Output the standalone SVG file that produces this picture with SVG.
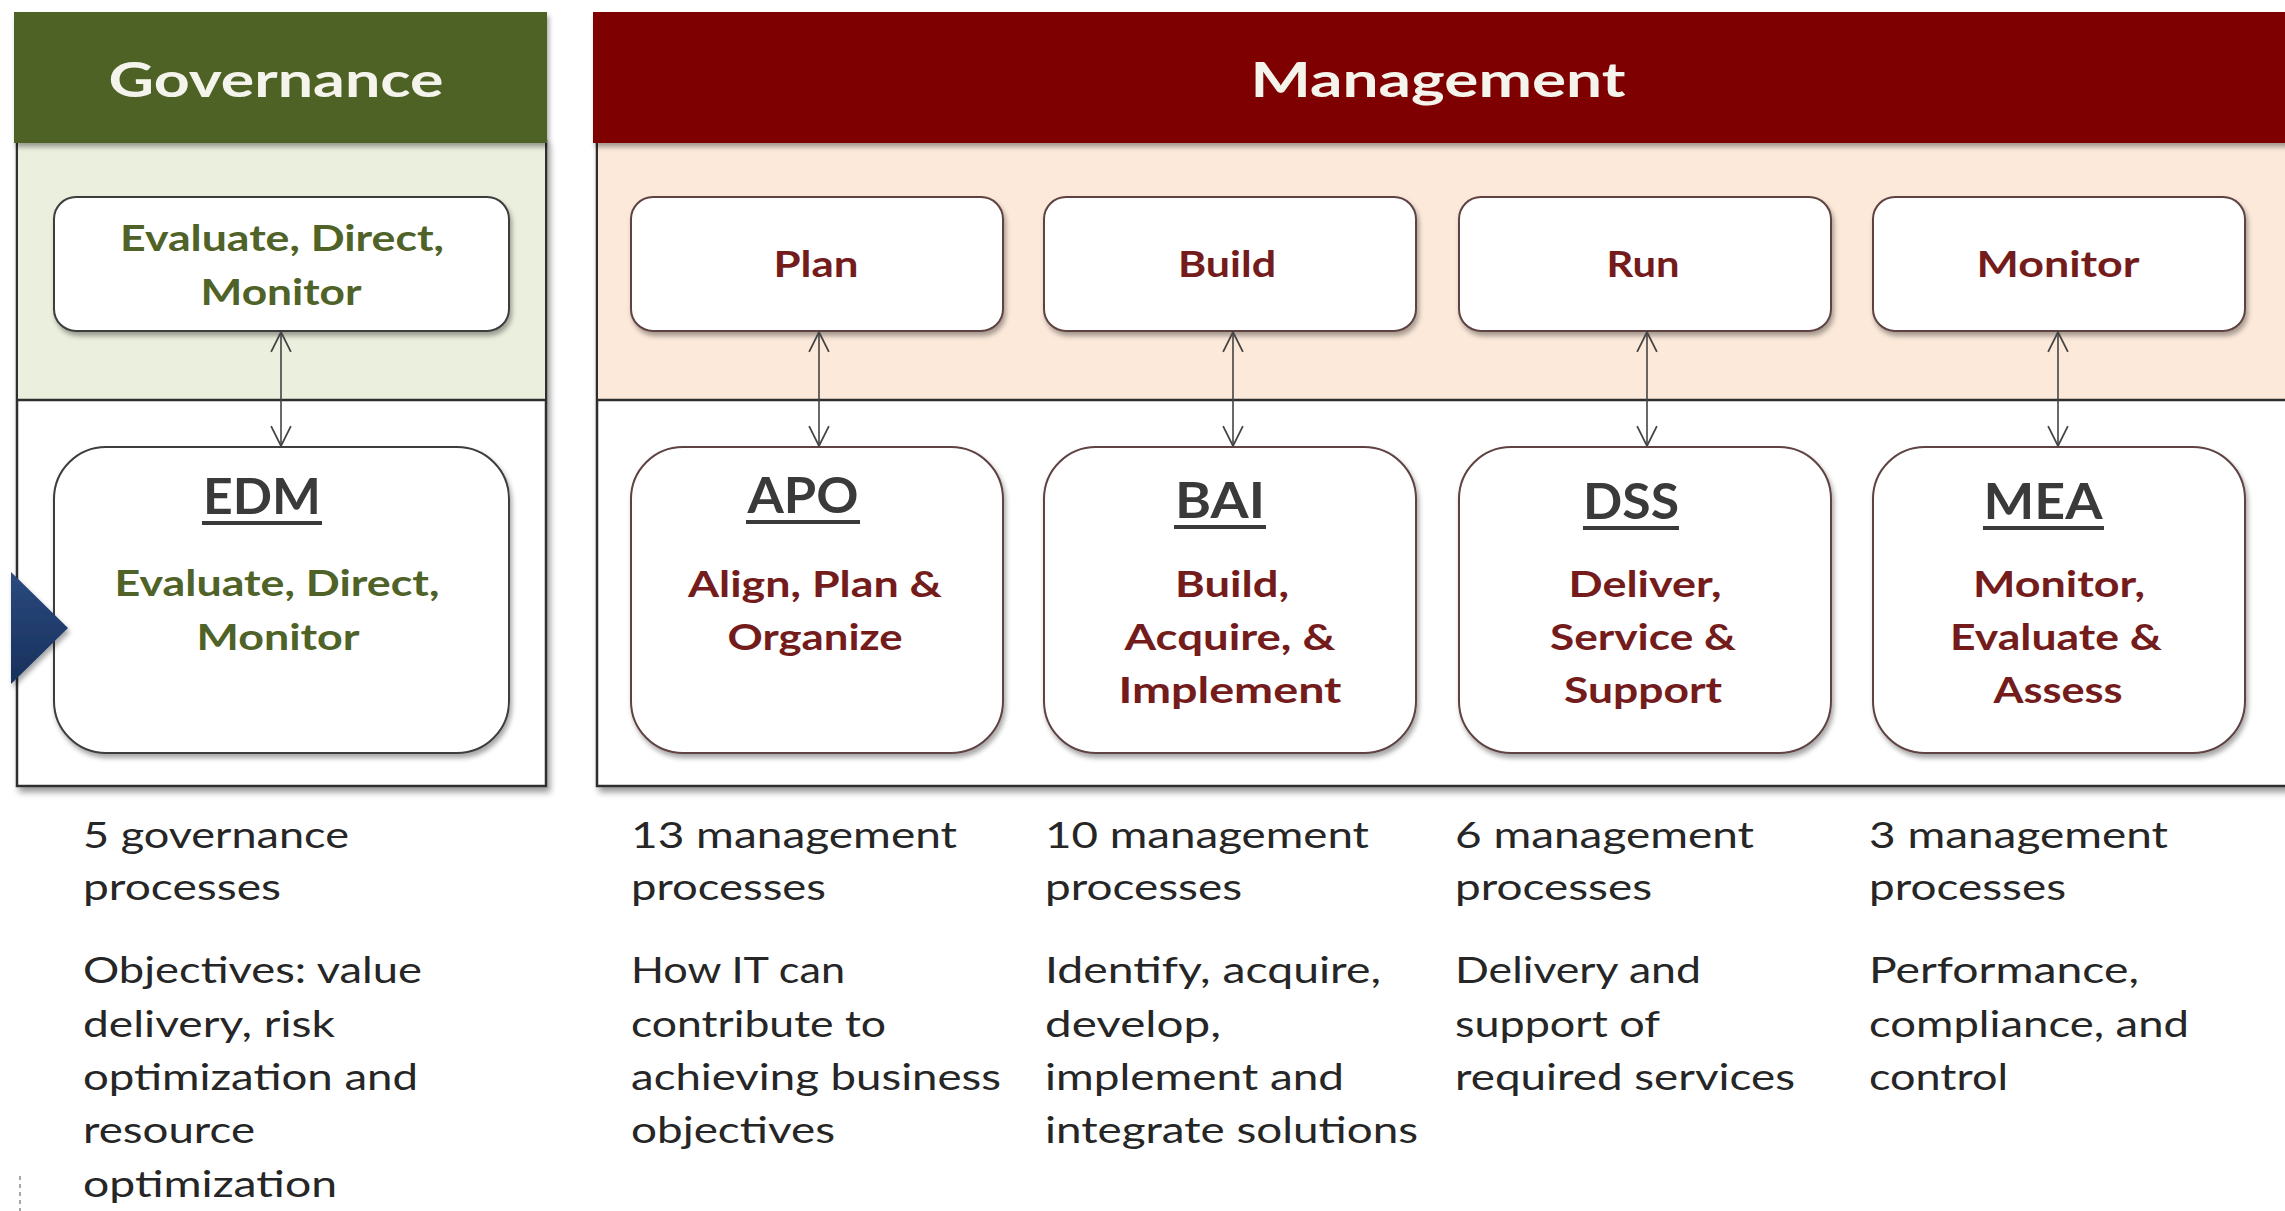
<svg xmlns="http://www.w3.org/2000/svg" width="2285" height="1211" viewBox="0 0 2285 1211">
<defs>
<filter id="sh" x="-10%" y="-10%" width="125%" height="130%"><feDropShadow dx="3" dy="5" stdDeviation="3" flood-color="#000" flood-opacity="0.4"/></filter>
<filter id="shs" x="-10%" y="-10%" width="125%" height="130%"><feDropShadow dx="2" dy="4" stdDeviation="2.5" flood-color="#000" flood-opacity="0.35"/></filter>
<linearGradient id="chev" x1="0" y1="0" x2="0" y2="1"><stop offset="0" stop-color="#2B4A7E"/><stop offset="1" stop-color="#17305C"/></linearGradient>
<marker id="ah" viewBox="0 0 20 20" refX="19" refY="10" markerUnits="userSpaceOnUse" markerWidth="22" markerHeight="22" orient="auto-start-reverse"><path d="M1,1 L19,10 L1,19" fill="none" stroke="#444" stroke-width="1.6"/></marker>
</defs>
<style>
text{font-family:Lato,"Open Sans","Liberation Sans",sans-serif}
.hdr{font-weight:700;font-size:48px;fill:#F4F4EC;text-anchor:middle}
.panel{stroke:#2E2E2E;stroke-width:2.5}
.gbox{fill:#FFFFFF;stroke:#3C3C3C;stroke-width:2}
.mbox{fill:#FFFFFF;stroke:#5E4242;stroke-width:2}
.gl{font-weight:700;font-size:36px;fill:#4F6228;text-anchor:middle}
.ml{font-weight:700;font-size:36px;fill:#741C1C;text-anchor:middle}
.code{font-weight:700;font-size:49px;fill:#3A3A3A;text-anchor:middle}
.ul{stroke:#3A3A3A;stroke-width:4}
.note{font-size:36px;fill:#262626}
.conn{stroke:#444;stroke-width:1.6;fill:none}
</style>

<g id="governance-panel">
<rect x="17" y="141" width="529" height="645" fill="#FFFFFF" class="panel" filter="url(#sh)"/>
<rect x="18" y="142" width="527" height="258" fill="#EBF0DE"/>
<line x1="17" y1="400" x2="546" y2="400" stroke="#2E2E2E" stroke-width="2.5"/>
</g>
<g id="management-panel">
<rect x="597" y="141" width="1700" height="645" fill="#FFFFFF" class="panel" filter="url(#sh)"/>
<rect x="598" y="142" width="1690" height="258" fill="#FCE9DA"/>
<line x1="597" y1="400" x2="2285" y2="400" stroke="#2E2E2E" stroke-width="2.5"/>
</g>

<g id="governance-header">
<rect x="14" y="12" width="533" height="131" fill="#4F6228" filter="url(#shs)"/>
<text class="hdr" x="276" y="97" textLength="335" lengthAdjust="spacingAndGlyphs">Governance</text>
</g>
<g id="management-header">
<rect x="593" y="12" width="1700" height="131" fill="#7F0000" filter="url(#shs)"/>
<text class="hdr" x="1438" y="97" textLength="375" lengthAdjust="spacingAndGlyphs" fill="#FBEDEB">Management</text>
</g>

<g id="edm-domain">
<rect class="gbox" x="54" y="197" width="455" height="134" rx="22" filter="url(#shs)"/>
<text class="gl" x="282" y="251" textLength="324" lengthAdjust="spacingAndGlyphs">Evaluate, Direct,</text>
<text class="gl" x="281" y="305" textLength="161" lengthAdjust="spacingAndGlyphs">Monitor</text>
</g>
<g id="plan">
<rect class="mbox" x="631" y="197" width="372" height="134" rx="22" filter="url(#shs)"/>
<text class="ml" x="816" y="277" textLength="85" lengthAdjust="spacingAndGlyphs">Plan</text>
</g>
<g id="build">
<rect class="mbox" x="1044" y="197" width="372" height="134" rx="22" filter="url(#shs)"/>
<text class="ml" x="1227" y="277" textLength="98" lengthAdjust="spacingAndGlyphs">Build</text>
</g>
<g id="run">
<rect class="mbox" x="1459" y="197" width="372" height="134" rx="22" filter="url(#shs)"/>
<text class="ml" x="1643" y="277" textLength="73" lengthAdjust="spacingAndGlyphs">Run</text>
</g>
<g id="monitor">
<rect class="mbox" x="1873" y="197" width="372" height="134" rx="22" filter="url(#shs)"/>
<text class="ml" x="2058" y="277" textLength="163" lengthAdjust="spacingAndGlyphs">Monitor</text>
</g>

<g id="edm">
<rect class="gbox" x="54" y="447" width="455" height="306" rx="52" filter="url(#shs)"/>
<text class="code" x="262" y="514" textLength="118" lengthAdjust="spacingAndGlyphs">EDM</text>
<line class="ul" x1="202" y1="523" x2="322" y2="523"/>
<text class="gl" x="277" y="596" textLength="325" lengthAdjust="spacingAndGlyphs">Evaluate, Direct,</text>
<text class="gl" x="278" y="650" textLength="163" lengthAdjust="spacingAndGlyphs">Monitor</text>
</g>
<g id="apo">
<rect class="mbox" x="631" y="447" width="372" height="306" rx="52" filter="url(#shs)"/>
<text class="code" x="803" y="513" textLength="111" lengthAdjust="spacingAndGlyphs">APO</text>
<line class="ul" x1="746" y1="522" x2="860" y2="522"/>
<text class="ml" x="815" y="597" textLength="254" lengthAdjust="spacingAndGlyphs">Align, Plan &amp;</text>
<text class="ml" x="815" y="650" textLength="175" lengthAdjust="spacingAndGlyphs">Organize</text>
</g>
<g id="bai">
<rect class="mbox" x="1044" y="447" width="372" height="306" rx="52" filter="url(#shs)"/>
<text class="code" x="1220" y="518" textLength="90" lengthAdjust="spacingAndGlyphs">BAI</text>
<line class="ul" x1="1174" y1="527" x2="1266" y2="527"/>
<text class="ml" x="1232" y="597" textLength="114" lengthAdjust="spacingAndGlyphs">Build,</text>
<text class="ml" x="1230" y="650" textLength="211" lengthAdjust="spacingAndGlyphs">Acquire, &amp;</text>
<text class="ml" x="1230" y="703" textLength="223" lengthAdjust="spacingAndGlyphs">Implement</text>
</g>
<g id="dss">
<rect class="mbox" x="1459" y="447" width="372" height="306" rx="52" filter="url(#shs)"/>
<text class="code" x="1631" y="519" textLength="96" lengthAdjust="spacingAndGlyphs">DSS</text>
<line class="ul" x1="1583" y1="528" x2="1679" y2="528"/>
<text class="ml" x="1645" y="597" textLength="153" lengthAdjust="spacingAndGlyphs">Deliver,</text>
<text class="ml" x="1643" y="650" textLength="186" lengthAdjust="spacingAndGlyphs">Service &amp;</text>
<text class="ml" x="1643" y="703" textLength="158" lengthAdjust="spacingAndGlyphs">Support</text>
</g>
<g id="mea">
<rect class="mbox" x="1873" y="447" width="372" height="306" rx="52" filter="url(#shs)"/>
<text class="code" x="2043" y="519" textLength="119" lengthAdjust="spacingAndGlyphs">MEA</text>
<line class="ul" x1="1983" y1="528" x2="2104" y2="528"/>
<text class="ml" x="2059" y="597" textLength="172" lengthAdjust="spacingAndGlyphs">Monitor,</text>
<text class="ml" x="2056" y="650" textLength="212" lengthAdjust="spacingAndGlyphs">Evaluate &amp;</text>
<text class="ml" x="2058" y="703" textLength="129" lengthAdjust="spacingAndGlyphs">Assess</text>
</g>

<g id="connectors">
<line class="conn" x1="281" y1="446" x2="281" y2="332" marker-start="url(#ah)" marker-end="url(#ah)"/>
<line class="conn" x1="819" y1="446" x2="819" y2="332" marker-start="url(#ah)" marker-end="url(#ah)"/>
<line class="conn" x1="1233" y1="446" x2="1233" y2="332" marker-start="url(#ah)" marker-end="url(#ah)"/>
<line class="conn" x1="1647" y1="446" x2="1647" y2="332" marker-start="url(#ah)" marker-end="url(#ah)"/>
<line class="conn" x1="2058" y1="446" x2="2058" y2="332" marker-start="url(#ah)" marker-end="url(#ah)"/>
</g>

<g id="chevron">
<polygon points="11,572 68,628 11,684" fill="url(#chev)" filter="url(#shs)"/>
</g>

<g id="governance-notes">
<text class="note" x="83" y="848" textLength="266" lengthAdjust="spacingAndGlyphs">5 governance</text>
<text class="note" x="83" y="900" textLength="198" lengthAdjust="spacingAndGlyphs">processes</text>
<text class="note" x="83" y="983" textLength="339" lengthAdjust="spacingAndGlyphs">Objectives: value</text>
<text class="note" x="83" y="1037" textLength="252" lengthAdjust="spacingAndGlyphs">delivery, risk</text>
<text class="note" x="83" y="1090" textLength="335" lengthAdjust="spacingAndGlyphs">optimization and</text>
<text class="note" x="83" y="1143" textLength="172" lengthAdjust="spacingAndGlyphs">resource</text>
<text class="note" x="83" y="1197" textLength="254" lengthAdjust="spacingAndGlyphs">optimization</text>
</g>
<g id="apo-notes">
<text class="note" x="631" y="848" textLength="326" lengthAdjust="spacingAndGlyphs">13 management</text>
<text class="note" x="631" y="900" textLength="195" lengthAdjust="spacingAndGlyphs">processes</text>
<text class="note" x="631" y="983" textLength="214" lengthAdjust="spacingAndGlyphs">How IT can</text>
<text class="note" x="631" y="1037" textLength="255" lengthAdjust="spacingAndGlyphs">contribute to</text>
<text class="note" x="631" y="1090" textLength="370" lengthAdjust="spacingAndGlyphs">achieving business</text>
<text class="note" x="631" y="1143" textLength="204" lengthAdjust="spacingAndGlyphs">objectives</text>
</g>
<g id="bai-notes">
<text class="note" x="1045" y="848" textLength="324" lengthAdjust="spacingAndGlyphs">10 management</text>
<text class="note" x="1045" y="900" textLength="197" lengthAdjust="spacingAndGlyphs">processes</text>
<text class="note" x="1045" y="983" textLength="336" lengthAdjust="spacingAndGlyphs">Identify, acquire,</text>
<text class="note" x="1045" y="1037" textLength="176" lengthAdjust="spacingAndGlyphs">develop,</text>
<text class="note" x="1045" y="1090" textLength="299" lengthAdjust="spacingAndGlyphs">implement and</text>
<text class="note" x="1045" y="1143" textLength="373" lengthAdjust="spacingAndGlyphs">integrate solutions</text>
</g>
<g id="dss-notes">
<text class="note" x="1455" y="848" textLength="299" lengthAdjust="spacingAndGlyphs">6 management</text>
<text class="note" x="1455" y="900" textLength="197" lengthAdjust="spacingAndGlyphs">processes</text>
<text class="note" x="1455" y="983" textLength="246" lengthAdjust="spacingAndGlyphs">Delivery and</text>
<text class="note" x="1455" y="1037" textLength="205" lengthAdjust="spacingAndGlyphs">support of</text>
<text class="note" x="1455" y="1090" textLength="340" lengthAdjust="spacingAndGlyphs">required services</text>
</g>
<g id="mea-notes">
<text class="note" x="1869" y="848" textLength="299" lengthAdjust="spacingAndGlyphs">3 management</text>
<text class="note" x="1869" y="900" textLength="197" lengthAdjust="spacingAndGlyphs">processes</text>
<text class="note" x="1869" y="983" textLength="270" lengthAdjust="spacingAndGlyphs">Performance,</text>
<text class="note" x="1869" y="1037" textLength="320" lengthAdjust="spacingAndGlyphs">compliance, and</text>
<text class="note" x="1869" y="1090" textLength="139" lengthAdjust="spacingAndGlyphs">control</text>
</g>
<line x1="20" y1="1176" x2="20" y2="1211" stroke="#8A8A8A" stroke-width="1.5" stroke-dasharray="4,4"/>
</svg>
